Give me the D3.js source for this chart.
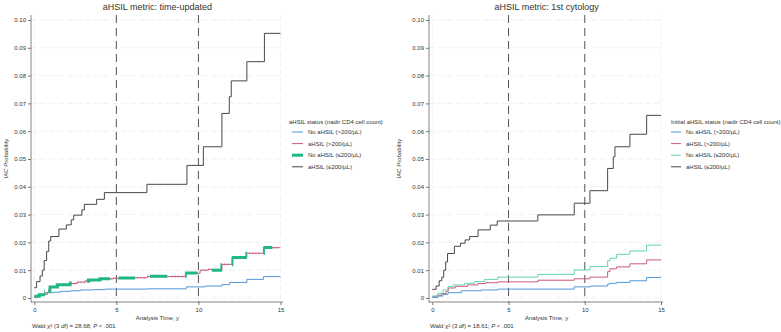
<!DOCTYPE html>
<html>
<head>
<meta charset="utf-8">
<script src="https://cdn.jsdelivr.net/npm/d3@7/dist/d3.min.js"></script>
<style>
  body { margin: 0; background: #fff; }
  svg { display: block; font-family: "Liberation Sans", Arial, sans-serif; }
</style>
</head>
<body>
<svg id="chart" width="781" height="332"></svg>
<script>
// ---------------- DATA ----------------
const seriesNames = ["No aHSIL (>200/µL)", "aHSIL (>200/µL)", "No aHSIL (≤200/µL)", "aHSIL (≤200/µL)"];
const yTicks = [0, 0.01, 0.02, 0.03, 0.04, 0.05, 0.06, 0.07, 0.08, 0.09, 0.10];
const yTickLabels = ["0", "0.01", "0.02", "0.03", "0.04", "0.05", "0.06", "0.07", "0.08", "0.09", "0.10"];
const xTicks = [0, 5, 10, 15];
const refLines = [5, 10];

// Panel A: time-updated  (time, cumulative probability) step-after
const leftBlueT  = [0, 0.2, 0.5, 0.8, 1.2, 1.6, 2.2, 2.8, 3.5, 4.3, 6.9, 9.26, 10.4, 11.43, 11.9, 12.95, 13.96];
const leftBlueV  = [0.0003, 0.0008, 0.0013, 0.0019, 0.0021, 0.0024, 0.0026, 0.0029, 0.0030, 0.0032, 0.0033, 0.0040, 0.0043, 0.0048, 0.0056, 0.0067, 0.0077];
const leftPinkT  = [0, 0.2, 0.45, 0.7, 0.9, 1.0, 1.5, 2.1, 2.6, 3.1, 3.6, 4.2, 4.8, 6.0, 6.9, 9.2, 10.1, 10.6, 11.43, 12.04, 12.95, 13.96];
const leftPinkV  = [0.0005, 0.0009, 0.0012, 0.0020, 0.0035, 0.0042, 0.0047, 0.0052, 0.0057, 0.0062, 0.0066, 0.0069, 0.0071, 0.0073, 0.0077, 0.0089, 0.0100, 0.0103, 0.0121, 0.0146, 0.0161, 0.0181];
const leftGreenT = [0, 0.3, 0.7, 0.95, 1.4, 2.2, 2.8, 3.3, 4.0, 4.8, 6.9, 9.2, 10.1, 11.43, 12.04, 12.95, 13.96];
const leftGreenV = [0.0006, 0.0012, 0.0024, 0.0040, 0.0048, 0.0054, 0.0060, 0.0065, 0.0069, 0.0072, 0.0078, 0.0090, 0.0100, 0.0120, 0.0146, 0.0161, 0.0182];
const leftBlackT = [0, 0.14, 0.35, 0.49, 0.6, 0.75, 0.88, 1.0, 1.5, 1.95, 2.25, 2.4, 2.9, 3.05, 3.8, 4.27, 6.86, 9.3, 10.3, 11.43, 11.88, 12.0, 12.95, 14.02];
const leftBlackV = [0.0037, 0.0059, 0.0079, 0.0100, 0.0135, 0.0167, 0.0205, 0.0221, 0.0248, 0.0263, 0.0281, 0.0298, 0.0317, 0.0337, 0.0355, 0.0379, 0.0409, 0.0477, 0.0544, 0.0664, 0.0724, 0.0781, 0.0850, 0.0952];
// intervals (years) where the thick green curve is visible above the pink one
const leftGreenShown = [[0, 0.65], [0.85, 2.28], [3.19, 4.61], [5.12, 6.14], [7.05, 8.1], [9.19, 9.95], [10.82, 11.45], [12.04, 12.95], [13.96, 14.5]];
const leftPinkCensor = [2.45, 2.65, 2.85, 3.05, 4.7, 4.85, 5.0, 6.3, 6.5, 6.7, 6.9, 8.4, 8.6, 8.8, 9.0, 10.2, 10.4, 10.6, 11.6, 11.8, 13.1, 13.3, 13.5, 13.7, 14.6, 14.8];

// Panel B: 1st cytology
const rightBlueT  = [0, 0.37, 0.7, 1.03, 1.9, 3.2, 4.3, 9.31, 10.34, 11.5, 11.65, 12.09, 12.96, 14.06];
const rightBlueV  = [0.0002, 0.0007, 0.0013, 0.0019, 0.0026, 0.0029, 0.0032, 0.0040, 0.0043, 0.0050, 0.0053, 0.0056, 0.0062, 0.0074];
const rightPinkT  = [0, 0.3, 0.6, 0.9, 1.05, 1.5, 2.3, 3.0, 3.5, 4.3, 6.93, 9.31, 10.34, 11.5, 11.65, 12.09, 12.96, 14.06];
const rightPinkV  = [0.0005, 0.0010, 0.0016, 0.0024, 0.0036, 0.0042, 0.0047, 0.0052, 0.0055, 0.0058, 0.0064, 0.0069, 0.0075, 0.0095, 0.0105, 0.0112, 0.0123, 0.0137];
const rightGreenT = [0, 0.37, 0.7, 1.03, 1.36, 2.12, 2.77, 3.43, 4.3, 6.93, 9.31, 10.34, 11.5, 11.65, 12.09, 12.96, 14.06];
const rightGreenV = [0.0007, 0.0017, 0.0029, 0.0041, 0.0047, 0.0053, 0.0059, 0.0067, 0.0075, 0.0085, 0.0101, 0.0113, 0.0134, 0.0143, 0.0157, 0.0169, 0.0190];
const rightBlackT = [0, 0.25, 0.45, 0.62, 0.75, 0.88, 1.0, 1.45, 1.85, 2.15, 2.45, 3.0, 3.8, 4.26, 6.92, 9.31, 10.34, 11.5, 11.87, 11.98, 12.96, 14.06];
const rightBlackV = [0.0031, 0.0043, 0.0062, 0.0075, 0.0100, 0.0130, 0.0160, 0.0186, 0.0197, 0.0209, 0.0221, 0.0245, 0.0262, 0.0277, 0.0299, 0.0341, 0.0386, 0.0466, 0.0508, 0.0544, 0.0589, 0.0657];

const xMax = 15;

// ---------------- DRAW ----------------
const svg = d3.select("#chart");
svg.append("rect").attr("width", 781).attr("height", 332).attr("fill", "#fff");

const colors = { blue: "#5096d8", pink: "#c95a7c", greenL: "#1fb784", greenR: "#63d4b0", black: "#474747" };

const panels = [
  {
    title: "aHSIL metric: time-updated",
    wald: ["Wald χ² (3 ", "df", ") = 28.68; ", "P", " < .001"],
    legendTitle: "aHSIL status (nadir CD4 cell count)",
    box: { x0: 31, x1: 283, y0: 15, y1: 302 },
    xr: [34.3, 280.5], yr: [298, 20],
    ylabX: 6,
    legend: { x: 289, y: 122, lx0: 292, lx1: 303, tx: 308 },
    series: [
      { t: leftBlueT, v: leftBlueV, color: colors.blue, w: 1 },
      { t: leftPinkT, v: leftPinkV, color: colors.pink, w: 1, censor: leftPinkCensor },
      { t: leftGreenT, v: leftGreenV, color: colors.greenL, w: 3, shown: leftGreenShown },
      { t: leftBlackT, v: leftBlackV, color: colors.black, w: 1 }
    ]
  },
  {
    title: "aHSIL metric: 1st cytology",
    wald: ["Wald χ² (3 ", "df", ") = 18.61; ", "P", " < .001"],
    legendTitle: "Initial aHSIL status (nadir CD4 cell count)",
    box: { x0: 429, x1: 663, y0: 15, y1: 302 },
    xr: [432.3, 661], yr: [298, 20],
    ylabX: 399,
    legend: { x: 671, y: 122, lx0: 671, lx1: 681, tx: 686 },
    series: [
      { t: rightBlueT, v: rightBlueV, color: colors.blue, w: 1 },
      { t: rightPinkT, v: rightPinkV, color: colors.pink, w: 1 },
      { t: rightGreenT, v: rightGreenV, color: colors.greenR, w: 1 },
      { t: rightBlackT, v: rightBlackV, color: colors.black, w: 1 }
    ]
  }
];

panels.forEach((p, pi) => {
  const x = d3.scaleLinear().domain([0, xMax]).range(p.xr);
  const y = d3.scaleLinear().domain([0, 0.10]).range(p.yr);
  const g = svg.append("g");
  const b = p.box;

  // gridlines
  g.selectAll(".hg").data(yTicks).join("line")
    .attr("x1", b.x0).attr("x2", b.x1)
    .attr("y1", d => y(d)).attr("y2", d => y(d))
    .attr("stroke", "#ececec").attr("stroke-width", 0.8).attr("stroke-dasharray", "6,3");
  g.selectAll(".vg").data(xTicks).join("line")
    .attr("x1", d => x(d)).attr("x2", d => x(d))
    .attr("y1", b.y0).attr("y2", b.y1)
    .attr("stroke", "#f0f0f0").attr("stroke-width", 0.8).attr("stroke-dasharray", "6,3");

  // reference lines
  g.selectAll(".ref").data(refLines).join("line")
    .attr("x1", d => x(d)).attr("x2", d => x(d))
    .attr("y1", b.y0).attr("y2", b.y1)
    .attr("stroke", "#555").attr("stroke-width", 1).attr("stroke-dasharray", "8,5");

  // axes
  const yAxis = d3.axisLeft(y).tickValues(yTicks).tickFormat((d, i) => yTickLabels[i]).tickSize(3).tickPadding(2);
  const ya = g.append("g").attr("transform", `translate(${b.x0},0)`).call(yAxis);
  ya.select(".domain").remove();
  ya.append("line").attr("x1", 0).attr("x2", 0).attr("y1", b.y0).attr("y2", b.y1 + 0.5).attr("stroke", "#777").attr("stroke-width", 0.9);
  ya.selectAll(".tick line").attr("stroke", "#777");
  ya.selectAll(".tick text").attr("font-size", 6).attr("fill", "#333").attr("font-family", "Liberation Sans, Arial, sans-serif");

  const xAxis = d3.axisBottom(x).tickValues(xTicks).tickSize(3).tickPadding(3);
  const xa = g.append("g").attr("transform", `translate(0,${b.y1})`).call(xAxis);
  xa.select(".domain").remove();
  xa.append("line").attr("x1", b.x0).attr("x2", b.x1).attr("y1", 0).attr("y2", 0).attr("stroke", "#777").attr("stroke-width", 0.9);
  xa.selectAll(".tick line").attr("stroke", "#777");
  xa.selectAll(".tick text").attr("font-size", 6).attr("fill", "#333").attr("font-family", "Liberation Sans, Arial, sans-serif");

  // curves
  const line = d3.line().x(d => x(d[0])).y(d => y(d[1])).curve(d3.curveStepAfter);
  p.series.forEach((s, si) => {
    const pts = s.t.map((t, i) => [t, s.v[i]]);
    pts.push([xMax, s.v[s.v.length - 1]]);
    let clipId = null;
    if (s.shown) {
      clipId = `clip-${pi}-${si}`;
      const cp = svg.append("clipPath").attr("id", clipId);
      cp.selectAll("rect").data(s.shown).join("rect")
        .attr("x", d => x(d[0])).attr("width", d => x(d[1]) - x(d[0]))
        .attr("y", b.y0).attr("height", b.y1 - b.y0);
    }
    const path = g.append("path").datum(pts)
      .attr("d", line).attr("fill", "none")
      .attr("stroke", s.color).attr("stroke-width", s.w)
      .attr("stroke-linejoin", "miter");
    if (clipId) path.attr("clip-path", `url(#${clipId})`);
    if (s.censor) {
      const valAt = t => { let v = s.v[0]; s.t.forEach((tt, i) => { if (tt <= t) v = s.v[i]; }); return v; };
      g.selectAll(`.c${pi}${si}`).data(s.censor).join("line")
        .attr("x1", d => x(d)).attr("x2", d => x(d))
        .attr("y1", d => y(valAt(d)) - 1.2).attr("y2", d => y(valAt(d)) + 1.2)
        .attr("stroke", s.color).attr("stroke-width", 0.5);
    }
  });

  // titles
  g.append("text").attr("x", (p.xr[0] + p.xr[1]) / 2).attr("y", 9.5)
    .attr("text-anchor", "middle").attr("font-size", 9).attr("fill", "#333").text(p.title);
  g.append("text").attr("x", (p.xr[0] + p.xr[1]) / 2).attr("y", 320)
    .attr("text-anchor", "middle").attr("font-size", 6).attr("fill", "#333").text("Analysis Time, y");
  g.append("text").attr("transform", `translate(${p.ylabX},${(b.y0 + b.y1) / 2}) rotate(-90)`)
    .attr("text-anchor", "middle").attr("dominant-baseline", "central")
    .attr("font-size", 6).attr("fill", "#333").text("IAC Probability");
  const wt = g.append("text").attr("x", b.x0 + 1).attr("y", 328).attr("font-size", 6).attr("fill", "#333");
  p.wald.forEach((part, i) => {
    const ts = wt.append("tspan").text(part);
    if (i === 1 || i === 3) ts.attr("font-style", "italic");
  });

  // legend
  const L = p.legend;
  g.append("text").attr("x", L.x).attr("y", L.y).attr("dominant-baseline", "central")
    .attr("font-size", 6).attr("fill", "#333").text(p.legendTitle);
  p.series.forEach((s, i) => {
    const yy = L.y + 10 + i * 11.6;
    g.append("line").attr("x1", L.lx0).attr("x2", L.lx1).attr("y1", yy).attr("y2", yy)
      .attr("stroke", s.color).attr("stroke-width", s.w);
    g.append("text").attr("x", L.tx).attr("y", yy).attr("dominant-baseline", "central")
      .attr("font-size", 6).attr("fill", "#333").text(seriesNames[i]);
  });
});
</script>
</body>
</html>
